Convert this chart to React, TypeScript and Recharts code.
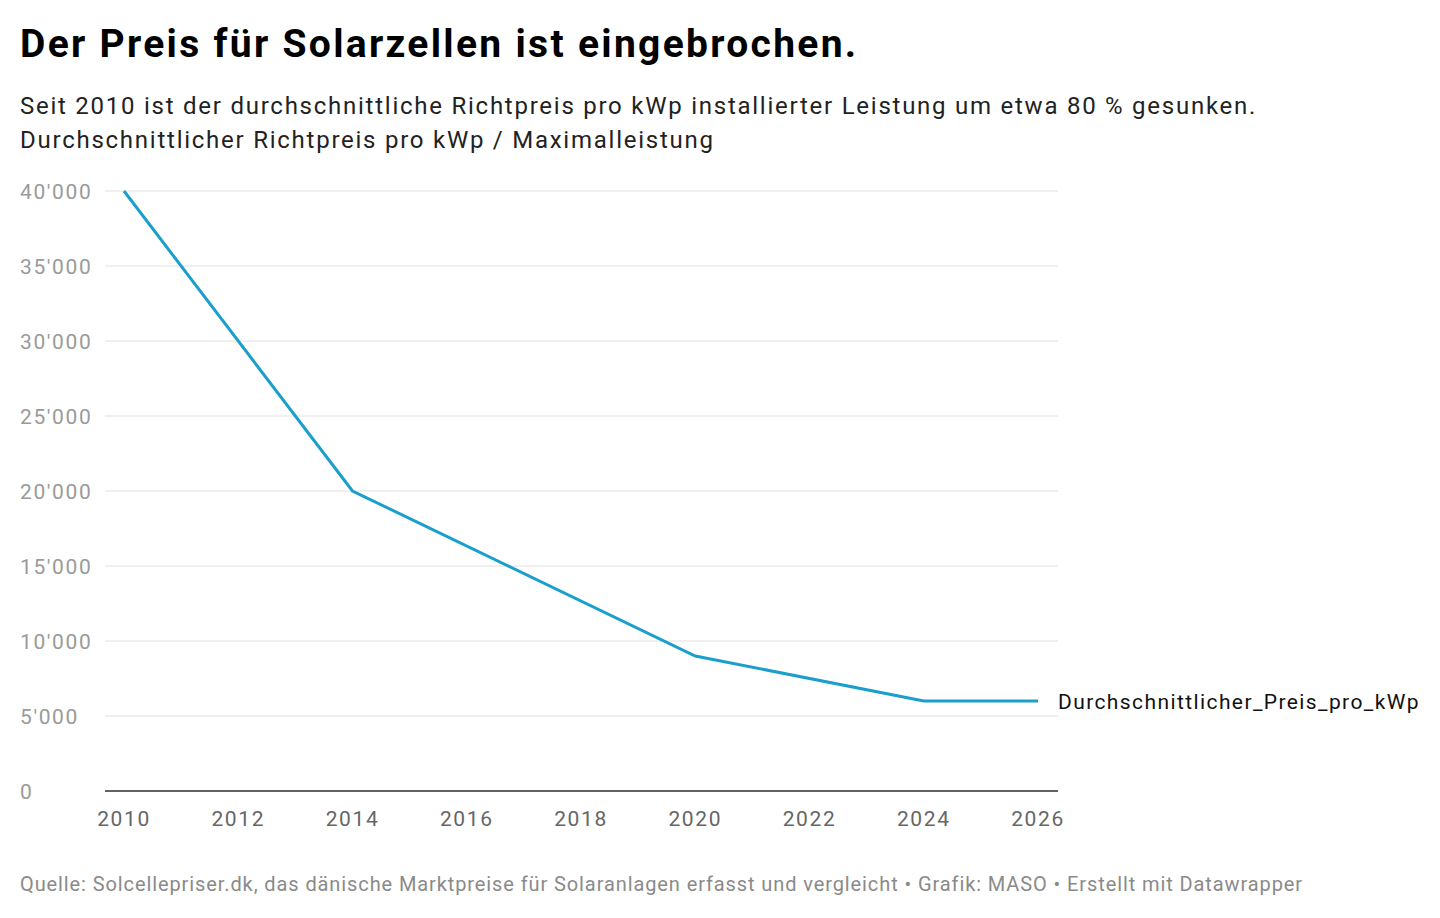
import React from 'react';
import { LineChart, Line, XAxis, YAxis, CartesianGrid, LabelList } from 'recharts';

const years = [2010, 2014, 2020, 2024, 2026];
const prices = [40000, 20000, 9000, 6000, 6000];
const xTicks = [2010, 2012, 2014, 2016, 2018, 2020, 2022, 2024, 2026];
const yTicks = [0, 5000, 10000, 15000, 20000, 25000, 30000, 35000, 40000];
const seriesName = 'Durchschnittlicher_Preis_pro_kWp';

const data = years.map((y, i) => ({ year: y, price: prices[i] }));

const fmt = (v: number) => (v >= 1000 ? `${Math.floor(v / 1000)}'${String(v % 1000).padStart(3, '0')}` : String(v));

const YTick = (props: any) => {
  const { y, payload } = props;
  return (
    <text x={20} y={y} dy={8} textAnchor="start" fill="#9a9a9a" fontSize={21} letterSpacing={1.6}>
      {fmt(payload.value)}
    </text>
  );
};

const EndLabel = (props: any) => {
  const { x, y, index } = props;
  if (index !== data.length - 1) return null;
  return (
    <text x={x + 20} y={y} dy={8} fill="#111" fontSize={21} letterSpacing={1.4}>
      {seriesName}
    </text>
  );
};

export default function App() {
  return (
    <div style={{ position: 'absolute', left: 0, top: 0, width: 1440, height: 918, background: '#fff', fontFamily: 'Roboto, sans-serif' }}>
      <div style={{ position: 'absolute', left: 20, top: 21, fontSize: 39, fontWeight: 700, color: '#000', letterSpacing: 2.3 }}>
        Der Preis für Solarzellen ist eingebrochen.
      </div>
      <div style={{ position: 'absolute', left: 20, top: 89, fontSize: 24, lineHeight: '34px', color: '#222', letterSpacing: 1.75 }}>
        Seit 2010 ist der durchschnittliche Richtpreis pro kWp installierter Leistung um etwa 80 % gesunken.
        <br />
        Durchschnittlicher Richtpreis pro kWp / Maximalleistung
      </div>
      <div style={{ position: 'absolute', top: 170, left: 0 }}>
        <LineChart width={1440} height={680} data={data} margin={{ top: 21, right: 382, left: 0, bottom: 19 }}>
          <CartesianGrid vertical={false} stroke="#e0e0e0" />
          <XAxis
            dataKey="year"
            type="number"
            domain={[2010, 2026]}
            ticks={xTicks}
            padding={{ left: 19, right: 20 }}
            height={40}
            axisLine={{ stroke: '#333', strokeWidth: 1.5 }}
            tickLine={false}
            tick={{ fill: '#666', fontSize: 21, letterSpacing: 1.6 }}
            tickMargin={14}
          />
          <YAxis
            type="number"
            domain={[0, 40000]}
            ticks={yTicks}
            width={105}
            axisLine={false}
            tickLine={false}
            tick={<YTick />}
          />
          <Line
            dataKey="price"
            stroke="#1a9fcc"
            strokeWidth={3}
            dot={false}
            isAnimationActive={false}
          >
            <LabelList dataKey="price" content={<EndLabel />} />
          </Line>
        </LineChart>
      </div>
      <div style={{ position: 'absolute', left: 20, top: 872, fontSize: 20, color: '#8a8a8a', letterSpacing: 0.9 }}>
        Quelle: Solcellepriser.dk, das dänische Marktpreise für Solaranlagen erfasst und vergleicht • Grafik: MASO • Erstellt mit Datawrapper
      </div>
    </div>
  );
}
